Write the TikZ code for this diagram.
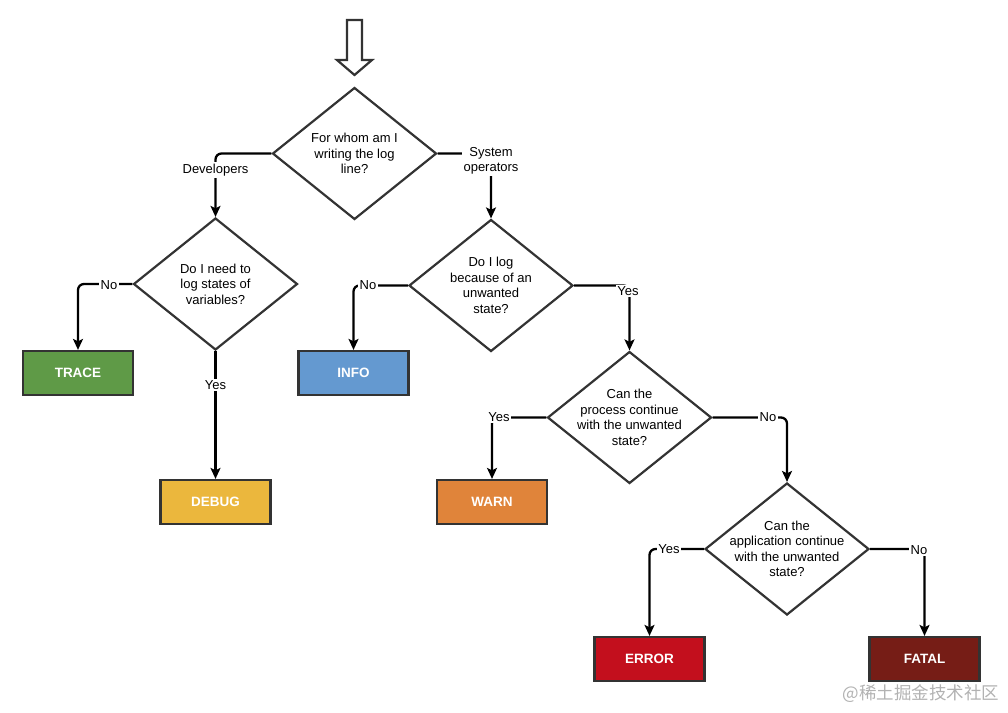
\documentclass[tikz,border=0pt]{standalone}
\usepackage{fontspec}
\setmainfont{Liberation Sans}
\newfontfamily\cjkfont{Noto Sans CJK SC}
\usetikzlibrary{shapes.geometric,arrows.meta}
\definecolor{cTrace}{HTML}{5F9A47}
\definecolor{cDebug}{HTML}{EBB73D}
\definecolor{cInfo}{HTML}{6499D0}
\definecolor{cWarn}{HTML}{E0843A}
\definecolor{cError}{HTML}{C30F1D}
\definecolor{cFatal}{HTML}{761D16}
\definecolor{cLine}{HTML}{333333}
\tikzset{
  txt/.style={font=\fontsize{13}{15.5}\selectfont, align=center, inner sep=0pt},
  decision/.style={diamond, draw=cLine, line width=2.2pt, fill=white, minimum width=164pt, minimum height=132pt, inner sep=0pt},
  level/.style={rectangle, draw=cLine, line width=2.2pt, minimum width=110pt, minimum height=44pt, inner sep=0pt, text=white, font=\fontsize{13.5}{15}\selectfont\bfseries},
  conn/.style={draw=black, line width=2.3pt, rounded corners=6pt, -{Stealth[length=11pt,width=10pt,inset=2.5pt]}},
  lbl/.style={fill=white, font=\fontsize{13}{15.5}\selectfont, align=center, inner sep=1.5pt}
}
\begin{document}
\begin{tikzpicture}[x=1pt,y=-1pt]
\useasboundingbox (0,0) rectangle (1008,712);
% entry arrow
\draw[cLine, line width=2.2pt, line join=miter] (347,20) -- (362,20) -- (362,60) -- (372,60) -- (354.5,75) -- (337,60) -- (347,60) -- cycle;
% decisions
\node[decision] (d1) at (354.5,153.5) {};
\node[txt] (t1) at (d1.center) {For whom am I\\writing the log\\line?};
\node[decision] (d2) at (215.5,284) {};
\node[txt] (t2) at (d2.center) {Do I need to\\log states of\\variables?};
\node[decision] (d3) at (491,285.5) {};
\node[txt] (t3) at (d3.center) {Do I log\\because of an\\unwanted\\state?};
\node[decision] (d4) at (629.5,417.5) {};
\node[txt] (t4) at (d4.center) {Can the\\process continue\\with the unwanted\\state?};
\node[decision] (d5) at (787,549) {};
\node[txt] (t5) at (d5.center) {Can the\\application continue\\with the unwanted\\state?};
% levels
\node[level, fill=cTrace] (trace) at (78,373) {TRACE};
\node[level, fill=cDebug] (debug) at (215.5,502) {DEBUG};
\node[level, fill=cInfo] (info) at (353.5,373) {INFO};
\node[level, fill=cWarn] (warn) at (492,502) {WARN};
\node[level, fill=cError] (error) at (649.5,659) {ERROR};
\node[level, fill=cFatal] (fatal) at (924.5,659) {FATAL};
% connectors
\draw[conn] (d1.west) -| (d2.north);
\draw[conn] (d1.east) -| (d3.north);
\draw[conn] (d2.west) -| (trace.north);
\draw[conn] (d2.south) -- (debug.north);
\draw[conn] (d3.west) -| (info.north);
\draw[conn] (d3.east) -| (d4.north);
\draw[conn] (d4.west) -| (warn.north);
\draw[conn] (d4.east) -| (d5.north);
\draw[conn] (d5.west) -| (error.north);
\draw[conn] (d5.east) -| (fatal.north);
% labels
\node[lbl] (l1) at (215.5,170) {Developers};
\node[lbl] (l2) at (491,161) {System\\operators};
\node[lbl] (l3) at (109,285) {No};
\node[lbl] (l4) at (215.5,385) {Yes};
\node[lbl] (l5) at (368,285) {No};
\node[lbl] (l6) at (628,291) {Yes};
\node[lbl] (l7) at (499,417) {Yes};
\node[lbl] (l8) at (768,417) {No};
\node[lbl] (l9) at (669,549) {Yes};
\node[lbl] (l10) at (919,550) {No};
% watermark
\node[text=black!30, font=\cjkfont\fontsize{17.5}{20}\selectfont, inner sep=0pt] (wm) at (921,694) {@稀土掘金技术社区};
\end{tikzpicture}
\end{document}
